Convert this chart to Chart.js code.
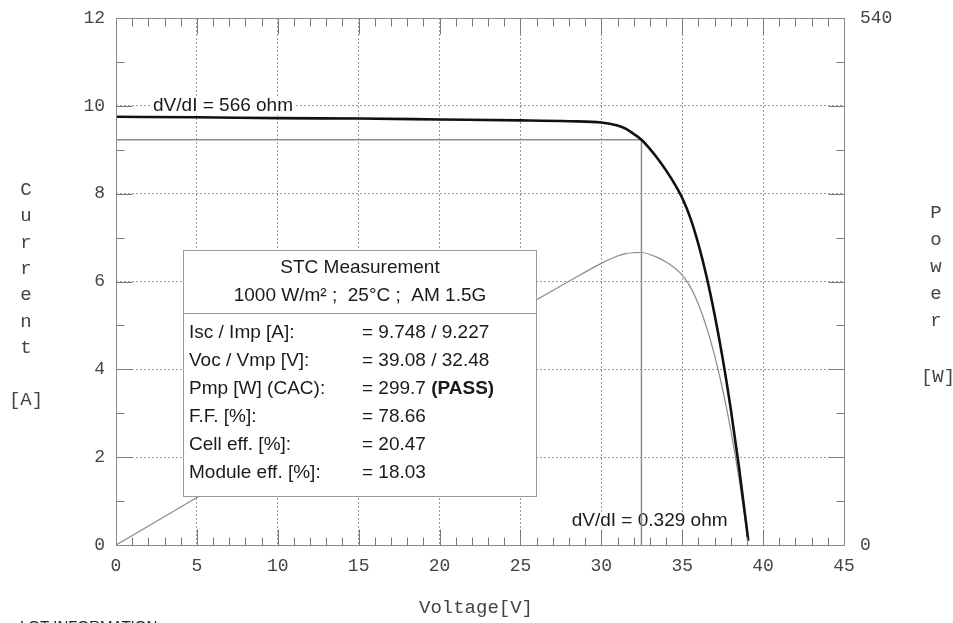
<!DOCTYPE html>
<html>
<head>
<meta charset="utf-8">
<script src="https://cdn.jsdelivr.net/npm/chart.js@4.4.1/dist/chart.umd.min.js"></script>
<style>
  html, body { margin: 0; padding: 0; background: #fff; }
  #wrap { width: 953px; height: 623px; }
</style>
</head>
<body>
<div id="wrap"><canvas id="ivChart" width="953" height="623"></canvas></div>
<script>
// I-V sweep
const voltage = [0, 5, 10, 15, 20, 25, 28, 30, 31, 31.5, 32, 32.48, 33, 33.5, 34, 34.5, 35, 35.5, 36, 36.5, 37, 37.5, 38, 38.5, 39, 39.08];
const current = [9.75, 9.74, 9.72, 9.71, 9.69, 9.67, 9.65, 9.62, 9.55, 9.48, 9.36, 9.227, 9.02, 8.79, 8.53, 8.24, 7.9, 7.45, 6.85, 6.12, 5.25, 4.25, 3.1, 1.8, 0.35, 0.1];
const power = [0, 48.7, 97.2, 145.7, 193.8, 241.8, 270.2, 288.6, 296.1, 298.6, 299.5, 299.7, 297.7, 294.5, 290.0, 284.3, 276.5, 264.5, 246.6, 223.4, 194.3, 159.4, 117.8, 69.3, 13.7, 3.9];

// maximum power point
const mppVoltage = 32.48;
const mppCurrent = 9.227;

// axis ticks
const voltageTicks = [0, 5, 10, 15, 20, 25, 30, 35, 40, 45];
const currentTicks = [0, 2, 4, 6, 8, 10, 12];
const powerTicks = [0, 540];

// measurement summary box
const boxTitle = ['STC Measurement', '1000 W/m\u00b2 ;  25\u00b0C ;  AM 1.5G'];
const statLabels = ['Isc / Imp [A]:', 'Voc / Vmp [V]:', 'Pmp [W] (CAC):', 'F.F. [%]:', 'Cell eff. [%]:', 'Module eff. [%]:'];
const statValues = ['= 9.748 / 9.227', '= 39.08 / 32.48', '= 299.7', '= 78.66', '= 20.47', '= 18.03'];

const MONO = '"Liberation Mono", "DejaVu Sans Mono", monospace';
const SANS = '"Liberation Sans", Arial, sans-serif';

const ivPoints = voltage.map((v, i) => ({ x: v, y: current[i] }));
const powerPoints = voltage.map((v, i) => ({ x: v, y: power[i] }));
const mppPoints = [
    { x: 0, y: mppCurrent },
    { x: mppVoltage, y: mppCurrent },
    { x: mppVoltage, y: 0 }
];

// dV/dI notes, anchored in data coordinates
const notes = [
    { text: 'dV/dI = 566 ohm', v: 2.29, i: 10.0 },
    { text: 'dV/dI = 0.329 ohm', v: 28.17, i: 0.55 }
];

const decor = {
    id: 'decor',
    beforeDatasetsDraw(chart) {
        const ctx = chart.ctx;
        const xs = chart.scales.x, ys = chart.scales.y;
        ctx.save();
        ctx.font = '19px ' + SANS;
        ctx.textBaseline = 'middle';
        notes.forEach(n => {
            const px = xs.getPixelForValue(n.v);
            const py = ys.getPixelForValue(n.i);
            const w = ctx.measureText(n.text).width;
            ctx.fillStyle = '#fff';
            ctx.fillRect(px - 2, py - 9, w + 4, 18);
            ctx.fillStyle = '#1a1a1a';
            ctx.fillText(n.text, px, py);
        });
        ctx.restore();
    },
    afterDatasetsDraw(chart) {
        const ctx = chart.ctx;
        const { left, right, top, bottom } = chart.chartArea;
        const xs = chart.scales.x, ys = chart.scales.y;
        ctx.save();

        // summary box
        const bx = 183.5, by = 250.5, bw = 353, bh = 246;
        ctx.fillStyle = '#fff';
        ctx.fillRect(bx, by, bw, bh);
        ctx.strokeStyle = '#999';
        ctx.lineWidth = 1;
        ctx.strokeRect(bx, by, bw, bh);
        ctx.beginPath();
        ctx.moveTo(bx, 313.5);
        ctx.lineTo(bx + bw, 313.5);
        ctx.stroke();

        ctx.fillStyle = '#1a1a1a';
        ctx.font = '19px ' + SANS;
        ctx.textBaseline = 'middle';
        ctx.textAlign = 'center';
        ctx.fillText(boxTitle[0], bx + bw / 2, 268);
        ctx.fillText(boxTitle[1], bx + bw / 2, 296);
        ctx.textAlign = 'left';
        statLabels.forEach((lab, k) => {
            const ty = 333 + k * 28;
            ctx.font = '19px ' + SANS;
            ctx.fillText(lab, 189, ty);
            ctx.fillText(statValues[k], 362, ty);
            if (k === 2) {
                const w = ctx.measureText(statValues[k] + ' ').width;
                ctx.font = 'bold 19px ' + SANS;
                ctx.fillText('(PASS)', 362 + w, ty);
            }
        });

        // frame
        const L = Math.round(left) + 0.5, R = Math.round(right) + 0.5;
        const T = Math.round(top) + 0.5, B = Math.round(bottom) + 0.5;
        ctx.strokeStyle = '#8a8a8a';
        ctx.lineWidth = 1;
        ctx.strokeRect(L, T, R - L, B - T);

        // inward ticks, minor and major
        ctx.strokeStyle = '#7a7a7a';
        ctx.beginPath();
        for (let v = 1; v < 45; v++) {
            const px = Math.round(xs.getPixelForValue(v)) + 0.5;
            const len = v % 5 === 0 ? 16 : 8;
            ctx.moveTo(px, B); ctx.lineTo(px, B - len);
            ctx.moveTo(px, T); ctx.lineTo(px, T + len);
        }
        for (let a = 1; a < 12; a++) {
            const py = Math.round(ys.getPixelForValue(a)) + 0.5;
            const len = a % 2 === 0 ? 16 : 8;
            ctx.moveTo(L, py); ctx.lineTo(L + len, py);
            ctx.moveTo(R, py); ctx.lineTo(R - len, py);
        }
        ctx.stroke();

        // axis titles
        ctx.fillStyle = '#444';
        ctx.font = '19px ' + MONO;
        ctx.textAlign = 'center';
        ctx.textBaseline = 'middle';
        ctx.fillText('Voltage[V]', 476, 608);
        'Current'.split('').forEach((c, k) => ctx.fillText(c, 26, 190 + k * 26.3));
        ctx.fillText('[A]', 26, 400);
        'Power'.split('').forEach((c, k) => ctx.fillText(c, 936, 213 + k * 27));
        ctx.fillText('[W]', 938, 377);

        // lot info header, cut by the page edge
        ctx.fillStyle = '#222';
        ctx.font = '15px ' + SANS;
        ctx.textAlign = 'left';
        ctx.textBaseline = 'alphabetic';
        ctx.fillText('LOT INFORMATION', 20, 631);

        ctx.restore();
    }
};

function fixVertical(width) {
    return s => {
        s.width = width;
        s.paddingTop = 0;
        s.paddingBottom = 0;
    };
}

const ctx = document.getElementById('ivChart').getContext('2d');
new Chart(ctx, {
    type: 'line',
    data: {
        datasets: [{
            label: 'Current',
            data: ivPoints,
            yAxisID: 'y',
            borderColor: '#111',
            borderWidth: 2.6,
            pointRadius: 0,
            cubicInterpolationMode: 'monotone'
        }, {
            label: 'MPP',
            data: mppPoints,
            yAxisID: 'y',
            borderColor: '#8c8c8c',
            borderWidth: 1.5,
            pointRadius: 0,
            tension: 0
        }, {
            label: 'Power',
            data: powerPoints,
            yAxisID: 'y2',
            borderColor: '#8a8a8a',
            borderWidth: 1.2,
            pointRadius: 0,
            cubicInterpolationMode: 'monotone'
        }]
    },
    options: {
        responsive: false,
        animation: false,
        events: [],
        layout: { padding: { top: 18, left: 0, right: 0, bottom: 0 } },
        plugins: {
            legend: { display: false },
            tooltip: { enabled: false }
        },
        scales: {
            x: {
                type: 'linear',
                min: 0,
                max: 45,
                afterBuildTicks: s => { s.ticks = voltageTicks.map(v => ({ value: v })); },
                afterFit: s => { s.height = 78; s.paddingLeft = 0; s.paddingRight = 0; },
                ticks: {
                    color: '#444',
                    font: { family: MONO, size: 18 },
                    padding: 10,
                    maxRotation: 0,
                    autoSkip: false
                },
                grid: { color: '#9a9a9a', lineWidth: 1, drawTicks: false },
                border: { display: false, dash: [2, 2] }
            },
            y: {
                type: 'linear',
                position: 'left',
                min: 0,
                max: 12,
                afterBuildTicks: s => { s.ticks = currentTicks.map(v => ({ value: v })); },
                afterFit: fixVertical(116),
                ticks: {
                    color: '#444',
                    font: { family: MONO, size: 18 },
                    padding: 11
                },
                grid: { color: '#9a9a9a', lineWidth: 1, drawTicks: false },
                border: { display: false, dash: [2, 2] }
            },
            y2: {
                type: 'linear',
                position: 'right',
                min: 0,
                max: 540,
                afterBuildTicks: s => { s.ticks = powerTicks.map(v => ({ value: v })); },
                afterFit: fixVertical(109),
                ticks: {
                    color: '#444',
                    font: { family: MONO, size: 18 },
                    padding: 16
                },
                grid: { display: false, drawTicks: false },
                border: { display: false }
            }
        }
    },
    plugins: [decor]
});
</script>
</body>
</html>
